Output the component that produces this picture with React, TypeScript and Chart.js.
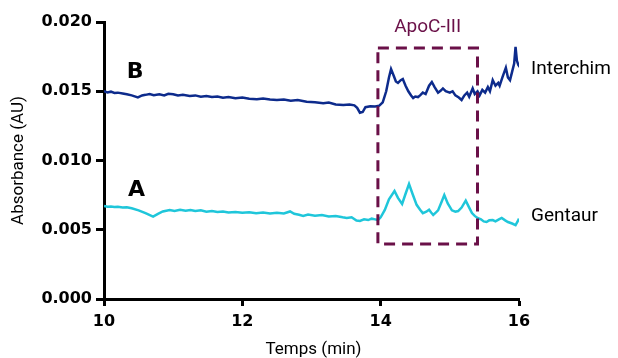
import React, { useEffect, useRef } from "react";
import { Chart, registerables } from "chart.js";

Chart.register(...registerables);

// Series B (Interchim)
const timeB = [
  10.0, 10.05, 10.1, 10.15, 10.2, 10.27, 10.33, 10.4, 10.49, 10.55, 10.6, 10.66, 10.72, 10.8, 10.87, 10.93,
  11.0, 11.07, 11.14, 11.24, 11.32, 11.4, 11.48, 11.56, 11.64, 11.72, 11.8, 11.9, 12.0, 12.1, 12.21, 12.3,
  12.4, 12.5, 12.6, 12.7, 12.8, 12.93, 13.05, 13.17, 13.25, 13.35, 13.46, 13.55, 13.62, 13.66, 13.7, 13.74,
  13.78, 13.85, 13.92, 13.98, 14.03, 14.08, 14.12, 14.15, 14.19, 14.22, 14.25, 14.29, 14.32, 14.36, 14.4,
  14.44, 14.47, 14.5, 14.54, 14.57, 14.61, 14.65, 14.7, 14.74, 14.78, 14.83, 14.87, 14.9, 14.94, 15.0,
  15.04, 15.08, 15.13, 15.17, 15.21, 15.25, 15.28, 15.33, 15.36, 15.4, 15.43, 15.47, 15.51, 15.55, 15.58,
  15.62, 15.66, 15.7, 15.72, 15.76, 15.81, 15.84, 15.87, 15.9, 15.93, 15.95, 15.97, 15.99, 16.02,
];
const absB = [
  0.015, 0.01492, 0.01497, 0.01488, 0.0149, 0.01484, 0.01478, 0.0147, 0.01456, 0.0147, 0.01474, 0.0148,
  0.01472, 0.01478, 0.0147, 0.01482, 0.01478, 0.0147, 0.01474, 0.01466, 0.0147, 0.0146, 0.01466, 0.01458,
  0.01462, 0.01453, 0.01458, 0.0145, 0.01454, 0.01446, 0.01442, 0.01448, 0.0144, 0.01437, 0.0144, 0.01432,
  0.01436, 0.01425, 0.0142, 0.01413, 0.01418, 0.01405, 0.01401, 0.01404, 0.01398, 0.0138, 0.01345, 0.0135,
  0.01385, 0.01392, 0.0139, 0.01396, 0.0142, 0.015, 0.016, 0.0166, 0.0161, 0.0157, 0.0156, 0.0158, 0.01588,
  0.0154, 0.015, 0.0147, 0.01451, 0.01462, 0.01458, 0.0147, 0.0149, 0.0148, 0.0154, 0.01567, 0.0153, 0.0149,
  0.01505, 0.0152, 0.015, 0.0149, 0.015, 0.0147, 0.01455, 0.01437, 0.0147, 0.0149, 0.0146, 0.0152, 0.0148,
  0.015, 0.0147, 0.0151, 0.0149, 0.0153, 0.015, 0.0158, 0.0154, 0.0156, 0.0154, 0.016, 0.0167, 0.016, 0.0158,
  0.0164, 0.017, 0.0182, 0.0172, 0.0169, 0.0167,
];

// Series A (Gentaur)
const timeA = [
  10.0, 10.05, 10.1, 10.15, 10.2, 10.27, 10.33, 10.4, 10.5, 10.6, 10.71, 10.78, 10.85, 10.95, 11.02, 11.1,
  11.18, 11.25, 11.32, 11.4, 11.48, 11.56, 11.64, 11.72, 11.8, 11.9, 12.0, 12.1, 12.2, 12.3, 12.4, 12.5, 12.6,
  12.69, 12.75, 12.82, 12.88, 12.95, 13.05, 13.15, 13.25, 13.35, 13.45, 13.51, 13.58, 13.65, 13.7, 13.76,
  13.82, 13.87, 13.92, 13.96, 14.0, 14.06, 14.12, 14.2, 14.25, 14.31, 14.36, 14.41, 14.46, 14.52, 14.57,
  14.61, 14.66, 14.7, 14.73, 14.76, 14.8, 14.83, 14.88, 14.92, 14.97, 15.03, 15.08, 15.12, 15.17, 15.23,
  15.28, 15.32, 15.36, 15.4, 15.45, 15.49, 15.53, 15.57, 15.62, 15.66, 15.71, 15.75, 15.8, 15.84, 15.9,
  15.95, 15.98, 16.0,
];
const absA = [
  0.00672, 0.00666, 0.00668, 0.00664, 0.00666, 0.0066, 0.00663, 0.00655, 0.0064, 0.0062, 0.00595, 0.00615,
  0.00632, 0.00643, 0.00636, 0.00645, 0.00638, 0.00643, 0.00635, 0.0064, 0.0063, 0.00635, 0.00628, 0.00632,
  0.00624, 0.00628, 0.00622, 0.00626, 0.0062, 0.00624, 0.00618, 0.00622, 0.00618, 0.00632, 0.00615, 0.00608,
  0.006, 0.0061, 0.00602, 0.00606, 0.00596, 0.006, 0.0059, 0.00585, 0.0059, 0.00566, 0.00563, 0.00575,
  0.0057, 0.0058, 0.00575, 0.0057, 0.0059, 0.00643, 0.0072, 0.0078, 0.0073, 0.00686, 0.0076, 0.0083, 0.0076,
  0.0068, 0.00645, 0.0062, 0.0063, 0.00645, 0.00625, 0.00607, 0.00625, 0.0064, 0.007, 0.0075, 0.0069, 0.0064,
  0.0063, 0.00635, 0.0066, 0.0071, 0.0066, 0.0062, 0.006, 0.00585, 0.00575, 0.0056, 0.00556, 0.00568, 0.0057,
  0.0056, 0.00575, 0.00585, 0.00568, 0.00556, 0.00545, 0.00534, 0.0056, 0.0058,
];

const xTicks = [10, 12, 14, 16];
const yTicks = [0, 0.005, 0.01, 0.015, 0.02];

// ApoC-III region box (time, absorbance)
const boxTime = [13.96, 15.4];
const boxAbs = [0.00397, 0.01812];

const colorB = "#0d2b8c";
const colorA = "#1fc6da";
const boxColor = "#6a1048";

const annotPlugin = {
  id: "annot",
  afterDatasetsDraw(chart: any) {
    const { ctx, scales, chartArea } = chart;
    const x = scales.x;
    const y = scales.y;
    ctx.save();
    // dashed box
    const x1 = x.getPixelForValue(boxTime[0]);
    const x2 = x.getPixelForValue(boxTime[1]);
    const y1 = y.getPixelForValue(boxAbs[1]);
    const y2 = y.getPixelForValue(boxAbs[0]);
    ctx.strokeStyle = boxColor;
    ctx.lineWidth = 3;
    ctx.setLineDash([11, 7]);
    ctx.strokeRect(x1, y1, x2 - x1, y2 - y1);
    ctx.setLineDash([]);

    ctx.textBaseline = "middle";
    ctx.fillStyle = boxColor;
    ctx.textAlign = "center";
    ctx.font = "19px Roboto";
    ctx.fillText("ApoC-III", (x1 + x2) / 2, y1 - 21);

    ctx.fillStyle = "#000";
    ctx.font = "bold 22px 'DejaVu Sans'";
    ctx.fillText("B", x.getPixelForValue(10.45), y.getPixelForValue(0.01636));
    ctx.fillText("A", x.getPixelForValue(10.47), y.getPixelForValue(0.00785));

    ctx.textAlign = "left";
    ctx.font = "19px Roboto";
    ctx.fillText("Interchim", chartArea.right + 12, y.getPixelForValue(0.01659));
    ctx.fillText("Gentaur", chartArea.right + 12, y.getPixelForValue(0.00597));

    // axis titles
    ctx.font = "17px Roboto";
    ctx.textAlign = "center";
    ctx.fillText("Temps (min)", (chartArea.left + chartArea.right) / 2 + 2, 350);
    ctx.save();
    ctx.translate(19, (chartArea.top + chartArea.bottom) / 2);
    ctx.rotate(-Math.PI / 2);
    ctx.fillText("Absorbance (AU)", 0, 0);
    ctx.restore();
    ctx.restore();
  },
};

export default function App() {
  const ref = useRef<HTMLCanvasElement | null>(null);
  useEffect(() => {
    if (!ref.current) return;
    const chart = new Chart(ref.current, {
      type: "line",
      data: {
        datasets: [
          {
            label: "Interchim",
            data: timeB.map((t, i) => ({ x: t, y: absB[i] })),
            borderColor: colorB,
            borderWidth: 2.5,
            pointRadius: 0,
            tension: 0,
          },
          {
            label: "Gentaur",
            data: timeA.map((t, i) => ({ x: t, y: absA[i] })),
            borderColor: colorA,
            borderWidth: 2.5,
            pointRadius: 0,
            tension: 0,
          },
        ],
      },
      options: {
        responsive: false,
        animation: false,
        layout: { padding: { top: 22, right: 99, left: 0, bottom: 0 } },
        plugins: { legend: { display: false }, tooltip: { enabled: false } },
        scales: {
          x: {
            type: "linear",
            min: 10,
            max: 16,
            afterBuildTicks: (s: any) => {
              s.ticks = xTicks.map((v) => ({ value: v }));
            },
            afterFit: (s: any) => {
              s.height = 59;
            },
            border: { display: true, color: "#000", width: 3 },
            grid: { display: true, drawOnChartArea: false, drawTicks: true, tickLength: 7, tickWidth: 3, tickColor: "#000" },
            ticks: {
              color: "#000",
              padding: 6,
              maxRotation: 0,
              font: { family: "'DejaVu Sans'", size: 16, weight: "bold" },
              callback: (v: any) => String(v),
            },
          },
          y: {
            type: "linear",
            min: 0,
            max: 0.02,
            afterBuildTicks: (s: any) => {
              s.ticks = yTicks.map((v) => ({ value: v }));
            },
            afterFit: (s: any) => {
              s.width = 104;
            },
            border: { display: true, color: "#000", width: 3 },
            grid: { display: true, drawOnChartArea: false, drawTicks: true, tickLength: 8, tickWidth: 3, tickColor: "#000" },
            ticks: {
              color: "#000",
              padding: 4,
              font: { family: "'DejaVu Sans'", size: 16, weight: "bold" },
              callback: (v: any) => Number(v).toFixed(3),
            },
          },
        },
      },
      plugins: [annotPlugin],
    });
    return () => chart.destroy();
  }, []);
  return (
    <div style={{ position: "fixed", left: 0, top: 0, width: 618, height: 358, background: "#fff" }}>
      <canvas ref={ref} width={618} height={358} style={{ display: "block" }} />
    </div>
  );
}
